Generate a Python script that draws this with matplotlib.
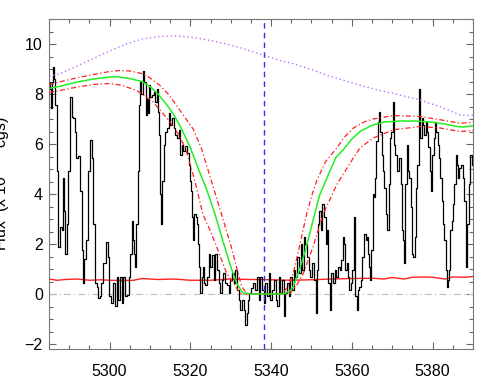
import matplotlib
matplotlib.use('Agg')
from matplotlib import pyplot as plt
from matplotlib.ticker import MultipleLocator

plt.rcParams['font.family'] = ['Liberation Sans', 'DejaVu Sans']

wave = [5285.0, 5285.3, 5285.6, 5285.9, 5286.2, 5286.4, 5286.7, 5287.1, 5287.5, 5287.9,
        5288.3, 5288.6, 5288.8, 5289.1, 5289.6, 5290.0, 5290.4, 5290.8, 5291.2, 5291.6,
        5292.0, 5292.5, 5292.9, 5293.3, 5293.6, 5293.9, 5294.4, 5294.9, 5295.4, 5295.8,
        5296.2, 5296.6, 5297.0, 5297.4, 5297.8, 5298.2, 5298.7, 5299.3, 5299.7, 5300.2,
        5300.7, 5301.1, 5301.6, 5302.0, 5302.4, 5302.8, 5303.2, 5303.6, 5304.1, 5304.5,
        5304.9, 5305.3, 5305.7, 5306.0, 5306.3, 5306.5, 5306.8, 5307.1, 5307.4, 5307.6,
        5308.0, 5308.4, 5308.8, 5309.0, 5309.3, 5309.6, 5309.8, 5310.3, 5310.7, 5311.1,
        5311.5, 5311.8, 5312.1, 5312.3, 5312.6, 5312.8, 5313.2, 5313.6, 5314.0, 5314.4,
        5314.8, 5315.2, 5315.6, 5316.1, 5316.5, 5316.9, 5317.3, 5317.7, 5318.1, 5318.5,
        5318.9, 5319.4, 5319.8, 5320.0, 5320.3, 5320.6, 5320.8, 5321.2, 5321.4, 5321.7,
        5322.0, 5322.2, 5322.7, 5322.9, 5323.2, 5323.5, 5323.9, 5324.3, 5324.7, 5325.1,
        5325.6, 5326.0, 5326.4, 5326.8, 5327.2, 5327.6, 5328.0, 5328.4, 5328.9, 5329.3,
        5329.7, 5330.1, 5330.5, 5330.9, 5331.3, 5331.8, 5332.2, 5332.6, 5333.0, 5333.4,
        5333.8, 5334.1, 5334.4, 5334.9, 5335.2, 5335.7, 5336.3, 5336.7, 5337.1, 5337.5,
        5338.0, 5338.4, 5338.8, 5339.2, 5339.6, 5340.0, 5340.4, 5340.9, 5341.3, 5341.7,
        5342.1, 5342.5, 5342.9, 5343.3, 5343.7, 5344.2, 5344.6, 5345.0, 5345.4, 5345.8,
        5346.2, 5346.6, 5347.1, 5347.5, 5347.9, 5348.3, 5348.7, 5349.1, 5349.5, 5349.9,
        5350.4, 5350.8, 5351.2, 5351.4, 5351.8, 5352.1, 5352.4, 5352.9, 5353.3, 5353.7,
        5353.9, 5354.1, 5354.3, 5354.8, 5355.1, 5355.6, 5355.9, 5356.4, 5356.7, 5357.2,
        5357.6, 5357.9, 5358.2, 5358.6, 5358.9, 5359.2, 5359.5, 5359.9, 5360.3, 5360.7,
        5361.0, 5361.3, 5361.5, 5361.9, 5362.4, 5362.8, 5363.2, 5363.6, 5363.9, 5364.2,
        5364.4, 5364.7, 5365.0, 5365.3, 5365.5, 5365.8, 5366.2, 5366.5, 5366.8, 5367.2,
        5367.5, 5367.8, 5368.2, 5368.6, 5369.0, 5369.3, 5369.6, 5370.0, 5370.3, 5370.6,
        5371.0, 5371.5, 5371.9, 5372.3, 5372.5, 5372.8, 5373.1, 5373.4, 5373.8, 5374.1,
        5374.4, 5374.8, 5375.1, 5375.4, 5375.8, 5376.1, 5376.4, 5376.8, 5377.1, 5377.4,
        5377.7, 5378.1, 5378.4, 5378.7, 5379.1, 5379.4, 5379.7, 5380.1, 5380.4, 5380.7,
        5381.1, 5381.4, 5381.7, 5382.0, 5382.4, 5382.7, 5383.0, 5383.4, 5383.6, 5383.9,
        5384.2, 5384.5, 5384.9, 5385.2, 5385.5, 5385.9, 5386.2, 5386.5, 5386.8, 5387.2,
        5387.6, 5388.0, 5388.4, 5388.8, 5389.2, 5389.5, 5389.8]
flux = [8.48, 8.20, 7.43, 8.50, 9.08, 8.60, 7.56, 4.92, 1.89, 2.68,
        2.55, 4.66, 3.34, 1.62, 2.81, 4.92, 7.89, 7.10, 7.03, 6.50,
        5.45, 5.51, 4.13, 1.75, 0.44, 1.42, 2.15, 4.92, 6.17, 5.45,
        2.81, 0.44, 0.30, -0.16, -0.09, 0.44, 1.23, 2.08, 1.49, -0.09,
        -0.36, 0.44, -0.49, 0.70, -0.22, 0.70, -0.36, 0.70, -0.09, -0.03,
        0.70, 1.62, 2.94, 2.15, 1.62, 1.10, 2.81, 4.92, 7.56, 8.48,
        8.02, 8.94, 8.48, 7.16, 7.82, 7.23, 8.35, 7.89, 7.96, 8.09,
        7.69, 8.22, 7.30, 6.37, 4.00, 2.81, 4.53, 5.98, 6.50, 6.64,
        7.23, 6.77, 7.03, 6.64, 6.37, 6.24, 6.57, 5.58, 5.98, 5.71,
        5.91, 5.65, 5.18, 4.53, 4.13, 3.07, 2.15, 3.21, 3.07, 2.81,
        2.02, 1.10, 0.04, 0.70, 1.10, 0.44, 0.37, 0.70, 1.62, 1.10,
        1.56, 0.57, 1.62, 0.96, 0.44, 0.04, 0.57, 0.83, 0.44, 0.37,
        0.04, 0.57, 0.83, 0.44, 0.96, 0.17, -0.22, -0.62, -0.22, -0.62,
        -1.25, -0.75, -0.22, 0.04, 0.24, 0.44, 0.17, 0.70, -0.22, 0.70,
        0.17, -0.36, 0.44, -0.09, 0.83, -0.22, 0.17, 0.57, -0.22, -0.49,
        0.70, 0.04, 0.57, -0.88, 0.04, 0.44, -0.09, 0.70, 0.17, 0.96,
        0.70, 1.49, 0.83, 2.02, 0.96, 2.28, 2.02, 1.49, 0.96, 0.70,
        1.23, 0.57, -0.75, 0.96, 2.81, 3.34, 2.55, 3.60, 3.07, 2.02,
        2.55, 1.89, 0.44, -0.62, 0.83, 0.44, 0.96, 0.70, 1.10, 0.96,
        1.36, 2.28, 2.02, 0.96, 1.23, 0.70, 0.17, 0.44, 0.96, 3.07,
        -0.09, -0.62, 0.17, 0.30, 0.57, 1.49, 2.41, 2.15, 2.28, 1.62,
        1.10, 0.57, 1.75, 4.00, 3.87, 4.66, 6.11, 6.90, 7.30, 6.50,
        5.58, 4.92, 4.26, 3.21, 2.55, 4.39, 6.24, 6.50, 7.69, 5.98,
        5.58, 4.92, 5.45, 4.39, 2.55, 2.15, 1.23, 4.39, 5.98, 4.92,
        4.66, 3.47, 1.62, 1.49, 2.28, 4.26, 5.18, 8.22, 6.24, 7.03,
        6.77, 6.37, 6.90, 6.50, 5.87, 4.92, 4.13, 5.58, 6.24, 6.90,
        6.50, 5.98, 5.45, 4.66, 3.73, 2.81, 2.15, 0.96, 0.30, 0.57,
        0.96, 2.55, 2.94, 3.60, 4.39, 5.58, 5.18, 4.66, 5.05, 5.18,
        4.66, 3.73, 1.10, 2.81, 4.39, 5.58, 5.18]

# model fit (green) and its envelope (red dash-dot)
fit_wave = [5285, 5288, 5292, 5296, 5300, 5302, 5305, 5308, 5310, 5312, 5314, 5316,
            5318, 5320, 5322, 5324, 5326, 5328, 5330, 5331.5, 5333, 5335, 5343, 5344.5,
            5345.5, 5347, 5348.5, 5350, 5352, 5354, 5356, 5358, 5360, 5362, 5365, 5368,
            5372, 5376, 5380, 5383, 5386, 5387.5, 5390]
fit_flux = [8.22, 8.32, 8.48, 8.60, 8.68, 8.69, 8.62, 8.50, 8.30, 8.00, 7.60, 7.15,
            6.55, 5.85, 5.00, 4.20, 3.25, 2.15, 1.10, 0.42, 0.05, 0.0, 0.0, 0.10,
            0.30, 0.95, 1.75, 2.70, 3.95, 4.70, 5.45, 5.80, 6.20, 6.50, 6.75, 6.88,
            6.92, 6.92, 6.87, 6.80, 6.70, 6.68, 6.73]

upper_wave = [5285, 5288, 5292, 5296, 5300, 5302.5, 5305, 5308, 5310, 5312.4, 5314.5,
              5316.5, 5318.5, 5320.7, 5322.8, 5324.5, 5326, 5327.7, 5329, 5330.2,
              5331.4, 5332.7, 5333.9, 5335, 5342, 5343, 5344.3, 5345.5, 5347.0, 5348.8,
              5350, 5351.3, 5353.5, 5356.3, 5358, 5360.4, 5363, 5365.3, 5370.3, 5376.9,
              5381.9, 5386.8, 5390]
upper_flux = [8.37, 8.50, 8.65, 8.78, 8.90, 8.94, 8.92, 8.82, 8.65, 8.35, 8.00,
              7.56, 7.10, 6.60, 5.80, 4.90, 4.10, 3.20, 2.50, 1.85,
              1.10, 0.30, 0.04, 0.0, 0.0, 0.04, 0.35, 0.83, 1.89, 3.20,
              3.90, 4.54, 5.30, 5.84, 6.25, 6.64, 6.88, 7.00, 7.14, 7.10,
              6.97, 6.83, 6.87]

lower_wave = [5285, 5288, 5292, 5296, 5300, 5303, 5306.6, 5308.5, 5310.7, 5312.8,
              5314.9, 5317, 5318.8, 5321, 5323.1, 5325, 5326.5, 5329.0, 5330.6, 5332.3,
              5333.5, 5343.5, 5344.7, 5346.5, 5348.0, 5350.4, 5352.9, 5356.3, 5360.4,
              5362, 5365.3, 5370.3, 5376.9, 5381.9, 5386.8, 5390]
lower_flux = [8.05, 8.15, 8.28, 8.38, 8.42, 8.35, 8.15, 7.95, 7.69, 7.30,
              6.90, 6.40, 5.84, 4.60, 3.20, 2.50, 1.89, 0.83, 0.44, 0.04,
              0.0, 0.0, 0.04, 0.40, 0.83, 1.89, 3.20, 4.39, 5.45,
              5.84, 6.24, 6.57, 6.70, 6.64, 6.50, 6.54]

# unabsorbed continuum (violet dotted)
cont_wave = [5285, 5287.6, 5291, 5295.9, 5300, 5304.1, 5308, 5312.4, 5316.5, 5320.7,
             5325, 5328.9, 5333, 5337.2, 5342.2, 5345.5, 5350, 5353.8, 5358, 5362,
             5366, 5370.3, 5376.9, 5381.9, 5386.8, 5388.1, 5390]
cont_flux = [8.72, 8.81, 9.05, 9.41, 9.72, 10.00, 10.20, 10.30, 10.33, 10.26,
             10.14, 10.00, 9.82, 9.60, 9.34, 9.21, 8.98, 8.75, 8.55, 8.35,
             8.18, 8.02, 7.76, 7.49, 7.16, 7.14, 7.16]

# error level (red solid)
err_wave = [5285, 5287, 5289, 5292, 5295, 5298, 5300, 5303, 5306, 5308, 5310, 5312,
            5316, 5320, 5325, 5330, 5335, 5340, 5345, 5350, 5355, 5360, 5365, 5368,
            5370, 5373, 5375, 5378, 5380, 5383, 5385, 5388, 5390]
err_flux = [0.60, 0.55, 0.58, 0.60, 0.55, 0.57, 0.55, 0.54, 0.55, 0.62, 0.60, 0.58,
            0.60, 0.55, 0.55, 0.60, 0.58, 0.57, 0.55, 0.57, 0.60, 0.62, 0.63, 0.60,
            0.66, 0.60, 0.67, 0.68, 0.67, 0.60, 0.68, 0.67, 0.70]

line_center = 5338.3

fig = plt.figure(figsize=(4.98, 3.88), dpi=100)
ax = fig.add_axes([0.0984, 0.1005, 0.8514, 0.8505])

ax.axhline(0, color='#bbbbbb', lw=0.8, linestyle=(0, (6, 3, 1, 3)))
ax.plot(err_wave, err_flux, color='#ff2020', lw=1.0)
ax.plot(wave, flux, color='black', lw=0.9, drawstyle='steps-mid')
ax.plot(cont_wave, cont_flux, color='#bb70ff', lw=1.0, linestyle=(0, (1, 2)))
ax.plot(upper_wave, upper_flux, color='#ff2020', lw=0.9, linestyle=(0, (4, 2, 1, 2)))
ax.plot(lower_wave, lower_flux, color='#ff2020', lw=0.9, linestyle=(0, (4, 2, 1, 2)))
ax.plot(fit_wave, fit_flux, color='#22ee22', lw=1.1)
ax.axvline(line_center, color='#3030ff', lw=1.0, linestyle=(0, (4, 3)))

ax.set_xlim(5285, 5390)
ax.set_ylim(-2.2, 11.0)
ax.xaxis.set_major_locator(MultipleLocator(20))
ax.xaxis.set_minor_locator(MultipleLocator(5))
ax.yaxis.set_major_locator(MultipleLocator(2))
ax.yaxis.set_minor_locator(MultipleLocator(0.5))
ax.tick_params(which='both', direction='in', top=True, right=True,
               labelsize=11.5, color='#666666', width=0.8)
ax.tick_params(axis='x', which='both', pad=11)
ax.tick_params(axis='y', which='both', pad=4.5)
ax.tick_params(which='major', length=5)
ax.tick_params(which='minor', length=3)
for sp in ax.spines.values():
    sp.set_color('#777777')
    sp.set_linewidth(0.8)

# label sits partly off the left edge, like the original
ax.set_ylabel('Flux  (x 10$^{-15}$ cgs)', fontsize=11.5)
ax.yaxis.set_label_coords(-0.088, 0.5)

plt.savefig('out.png', dpi=100)
